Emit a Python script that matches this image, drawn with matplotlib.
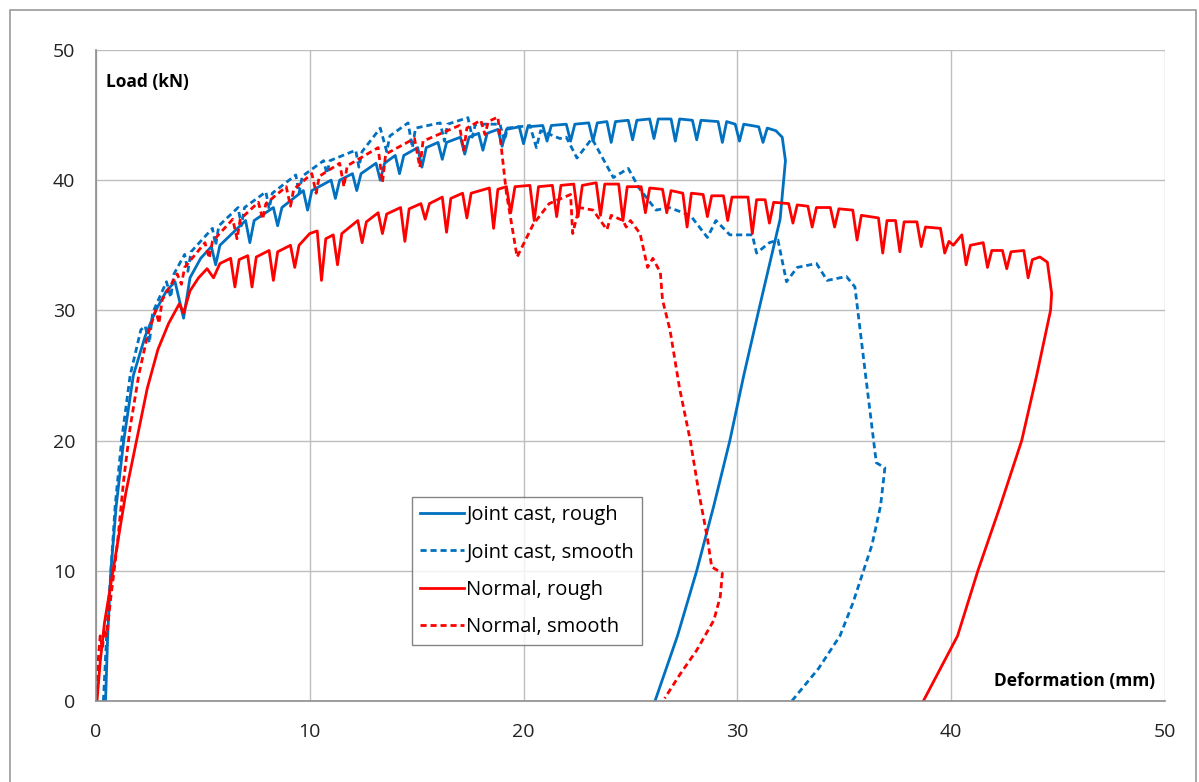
import matplotlib.pyplot as plt
from matplotlib.patches import Rectangle

plt.rcParams['font.family'] = ['Open Sans', 'DejaVu Sans']

# Joint cast, rough (blue solid)
jc_rough_x = [0.45, 0.55, 0.7, 0.95, 1.3, 1.75, 2.3, 2.8, 3.3, 3.7, 4.1, 4.4, 4.9, 5.4, 5.6, 5.8, 7.0,
              7.2, 7.4, 8.3, 8.5, 8.7, 9.7, 9.9, 10.1, 11.0, 11.2, 11.4, 12.0, 12.2, 12.4, 13.1, 13.3,
              13.5, 14.0, 14.2, 14.4, 15.05, 15.25, 15.45, 16.0, 16.2, 16.4, 17.05, 17.25, 17.45, 17.9,
              18.1, 18.3, 18.8, 19.0, 19.2, 19.8, 20.0, 20.2, 20.9, 21.1, 21.3, 22.0, 22.2, 22.4, 23.05,
              23.25, 23.45, 23.9, 24.1, 24.3, 24.9, 25.1, 25.3, 25.9, 26.1, 26.3, 26.9, 27.1, 27.3, 27.9,
              28.1, 28.3, 29.1, 29.3, 29.5, 29.9, 30.1, 30.3, 31.0, 31.2, 31.4, 31.8, 32.1, 32.25, 32.0,
              31.5, 31.0, 30.3, 29.65, 28.9, 28.1, 27.2, 26.15]
jc_rough_y = [0, 5, 10, 15, 20, 25, 28, 30, 31.5, 32.2, 29.4, 32.5, 34.0, 34.9, 33.5, 35.0, 36.9,
              35.2, 36.9, 37.9, 36.5, 37.9, 39.2, 37.7, 39.2, 40.0, 38.6, 40.0, 40.5, 39.2, 40.5, 41.3, 40.0,
              41.3, 41.9, 40.5, 41.9, 42.5, 41.0, 42.5, 42.9, 41.6, 42.9, 43.3, 42.0, 43.3, 43.6,
              42.3, 43.6, 43.9, 42.6, 43.9, 44.1, 42.8, 44.1, 44.2, 43.0, 44.2, 44.3, 43.0, 44.3, 44.4,
              43.0, 44.4, 44.5, 42.9, 44.5, 44.6, 43.1, 44.6, 44.7, 43.2, 44.7, 44.7, 43.0, 44.7, 44.6,
              43.1, 44.6, 44.5, 42.9, 44.5, 44.3, 43.0, 44.3, 44.1, 42.9, 44.0, 43.8, 43.3, 41.5, 37.0,
              33.5, 30.0, 25.0, 20.0, 15.0, 10.0, 5.0, 0]

# Joint cast, smooth (blue dashed)
jc_smooth_x = [0.35, 0.5, 0.7, 0.9, 1.2, 1.6, 2.1, 2.3, 2.5, 2.65, 3.3, 3.5, 3.65, 4.15, 4.3, 4.45, 5.45,
               5.6, 5.75, 6.65, 6.8, 6.95, 7.95, 8.1, 8.25, 9.35, 9.5, 9.65, 10.65, 10.8, 10.95, 12.15,
               12.3, 12.45, 13.3, 13.6, 13.75, 14.6, 14.8, 14.95, 16.1, 16.3, 16.45, 17.4, 17.6, 17.75,
               18.9, 19.1, 19.25, 20.3, 20.6, 20.8, 21.7, 22.0, 22.5, 23.2, 24.2, 24.9, 25.4, 26.2, 26.8,
               27.8, 28.6, 29.0, 29.65, 30.7, 30.9, 31.5, 31.9, 32.3, 32.8, 33.7, 34.2, 35.1, 35.5, 36.0,
               36.5, 36.9, 36.7, 36.3, 35.9, 35.4, 34.8, 33.8, 32.55]
jc_smooth_y = [0, 5, 10, 15, 20, 25, 28.5, 28.8, 27.5, 29.8, 32.2, 31, 32.8, 34.3, 33, 34.5, 36.3,
               35, 36.5, 37.9, 36.5, 37.9, 39.1, 37.8, 39.0, 40.4, 39, 40.3, 41.5, 40.5, 41.5, 42.3,
               41, 42.2, 44.0, 42.2, 43.4, 44.4, 42.5, 44.0, 44.4, 43, 44.3, 44.8, 43.3, 44.3,
               44.3, 43, 44.0, 44.2, 42.5, 43.8, 43.2, 43.3, 41.7, 43.2, 40.2, 40.9, 39.4, 37.7, 37.9,
               37.3, 35.6, 36.9, 35.8, 35.8, 34.4, 35.2, 35.4, 32.2, 33.3, 33.6, 32.3, 32.6, 31.8, 25,
               18.3, 17.9, 15, 12, 10, 7.5, 5, 2.5, 0]

# Normal, rough (red solid)
n_rough_x = [0.05, 0.2, 0.4, 0.7, 1.0, 1.4, 1.9, 2.4, 2.9, 3.4, 3.9, 4.1, 4.4, 4.8, 5.2, 5.5, 5.8, 6.3,
             6.5, 6.7, 7.1, 7.3, 7.5, 8.1, 8.3, 8.5, 9.1, 9.3, 9.5, 10.0, 10.35, 10.55, 10.75, 11.1, 11.3,
             11.5, 12.25, 12.45, 12.65, 13.2, 13.4, 13.6, 14.25, 14.45, 14.65, 15.2, 15.4, 15.6, 16.2,
             16.4, 16.6, 17.15, 17.35, 17.55, 18.4, 18.6, 18.8, 19.2, 19.4, 19.6, 20.3, 20.5, 20.7,
             21.35, 21.55, 21.75, 22.35, 22.55, 22.75, 23.4, 23.6, 23.8, 24.45, 24.65, 24.85, 25.5, 25.7,
             25.9, 26.5, 26.7, 26.9, 27.45, 27.65, 27.85, 28.4, 28.6, 28.8, 29.35, 29.55, 29.75, 30.5,
             30.7, 30.9, 31.3, 31.5, 31.7, 32.4, 32.6, 32.8, 33.3, 33.5, 33.7, 34.35, 34.55, 34.75, 35.4,
             35.6, 35.8, 36.6, 36.8, 37.0, 37.4, 37.6, 37.8, 38.4, 38.6, 38.8, 39.5, 39.7, 39.9, 40.1,
             40.5, 40.7, 40.9, 41.5, 41.7, 41.9, 42.4, 42.6, 42.8, 43.4, 43.6, 43.8, 44.15, 44.5, 44.7,
             44.65, 44.0, 43.3, 42.3, 41.25, 40.3, 39.5, 38.7]
n_rough_y = [0, 3, 6, 9, 12, 16, 20, 24, 27, 29, 30.5, 29.8, 31.5, 32.5, 33.2, 32.5, 33.6, 34.0,
             31.8, 33.9, 34.2, 31.8, 34.1, 34.6, 32.3, 34.5, 35.0, 33.3, 35.0, 35.9, 36.1, 32.3, 35.5, 35.8,
             33.5, 35.9, 36.9, 35.2, 36.8, 37.5, 35.9, 37.4, 37.9, 35.3, 37.8, 38.2, 37.0, 38.2, 38.7,
             36.0, 38.6, 39.0, 37.1, 39.0, 39.4, 36.3, 39.3, 39.5, 37.5, 39.5, 39.6, 36.9, 39.5,
             39.6, 37.2, 39.6, 39.7, 37.2, 39.6, 39.8, 37.3, 39.7, 39.7, 36.9, 39.5, 39.5, 37.5,
             39.4, 39.3, 37.5, 39.2, 39.0, 36.4, 39.0, 38.9, 37.2, 38.8, 38.8, 36.9, 38.7, 38.7,
             35.9, 38.5, 38.5, 36.7, 38.3, 38.2, 36.7, 38.1, 38.0, 36.4, 37.9, 37.9, 36.4, 37.8, 37.7,
             35.4, 37.3, 37.1, 34.4, 36.9, 36.9, 34.5, 36.8, 36.8, 34.9, 36.4, 36.3, 34.4, 35.3, 35.0,
             35.8, 33.5, 35.0, 35.2, 33.3, 34.6, 34.6, 33.2, 34.5, 34.6, 32.5, 33.9, 34.1, 33.7, 31.3,
             30.0, 25.0, 20.0, 15.0, 10.0, 5.0, 2.5, 0]

# Normal, smooth (red dashed)
n_smooth_x = [0.0, 0.1, 0.2, 0.3, 0.4, 0.5, 0.7, 1.0, 1.3, 1.6, 2.0, 2.4, 2.8, 2.95, 3.1, 3.8, 4.0, 4.15,
              5.1, 5.3, 5.45, 6.4, 6.6, 6.75, 7.6, 7.8, 7.95, 8.9, 9.1, 9.25, 10.1, 10.3, 10.45, 11.4, 11.6,
              11.75, 13.2, 13.4, 13.55, 14.9, 15.15, 15.3, 17.0, 17.2, 17.35, 18.0, 18.2, 18.35, 18.8,
              19.2, 19.7, 20.45, 21.2, 22.2, 22.3, 22.6, 23.25, 23.9, 24.1, 24.65, 24.8, 25.0, 25.45,
              25.8, 26.05, 26.4, 26.5, 26.85, 27.3, 27.8, 28.2, 28.6, 28.8, 29.3, 29.2, 28.9, 28.1, 27.3,
              26.6]
n_smooth_y = [0, 3, 5, 4, 5.5, 5, 8, 12, 17, 21, 25, 28, 30, 29, 30.8, 32.8, 32, 33.3,
              35.2, 34, 35.3, 37.0, 35.5, 37.0, 38.3, 37, 38.2, 39.5, 38, 39.3, 40.5, 39, 40.3, 41.3, 39.5,
              41.1, 42.5, 39.8, 42.0, 43.2, 41.0, 43.0, 44.2, 42.3, 44.0, 44.6, 43.5, 44.5, 44.85,
              39, 34.1, 36.6, 38.2, 38.9, 35.9, 37.9, 37.7, 36.2, 37.3, 36.9, 36.4, 36.9, 35.9,
              33.3, 34.0, 32.9, 30.8, 28.5, 24, 20, 16, 12.5, 10.3, 9.8, 8, 6.2, 3.9, 2,
              0.2]

blue = '#0070C0'
red = '#FF0000'

fig = plt.figure(figsize=(11.99, 7.82), dpi=100)
ax = fig.add_axes([0.080, 0.1036, 0.8916, 0.8325])

ax.plot(jc_rough_x, jc_rough_y, color=blue, lw=2.0, label='Joint cast, rough')
ax.plot(jc_smooth_x, jc_smooth_y, color=blue, lw=2.0, dashes=(2.2, 1.4), label='Joint cast, smooth')
ax.plot(n_rough_x, n_rough_y, color=red, lw=2.0, label='Normal, rough')
ax.plot(n_smooth_x, n_smooth_y, color=red, lw=2.0, dashes=(2.2, 1.4), label='Normal, smooth')

ax.set_xlim(0, 50)
ax.set_ylim(0, 50)
ax.set_xticks(range(0, 51, 10))
ax.set_yticks(range(0, 51, 10))
ax.grid(True, color='#BEBEBE', lw=1)
ax.set_axisbelow(True)
ax.tick_params(length=0, labelsize=14, colors='#222222')
ax.tick_params(axis='x', pad=16)
ax.tick_params(axis='y', pad=15)
for s in ['top', 'right']:
    ax.spines[s].set_visible(False)
for s in ['left', 'bottom']:
    ax.spines[s].set_color('#8C8C8C')
    ax.spines[s].set_linewidth(1.2)

ax.text(0.009, 0.965, 'Load (kN)', transform=ax.transAxes, fontsize=12.5,
        fontweight='bold', ha='left', va='top')
ax.text(0.991, 0.03, 'Deformation (mm)', transform=ax.transAxes, fontsize=12.5,
        fontweight='bold', ha='right', va='center')

leg = ax.legend(loc='upper left', bbox_to_anchor=(0.2956, 0.3134), fontsize=14.5,
                frameon=True, fancybox=False, edgecolor='#666666', handlelength=2.2,
                handletextpad=0.1, labelspacing=0.86, borderpad=0.4, borderaxespad=0)
leg.get_frame().set_linewidth(1.0)

# outer chart border
fig.patches.append(Rectangle((10 / 1199, -0.05), 1186 / 1199, 1 - 10 / 782 + 0.05,
                             transform=fig.transFigure, fill=False, edgecolor='#9A9A9A', lw=1.2))

fig.savefig('out.png', dpi=100)
